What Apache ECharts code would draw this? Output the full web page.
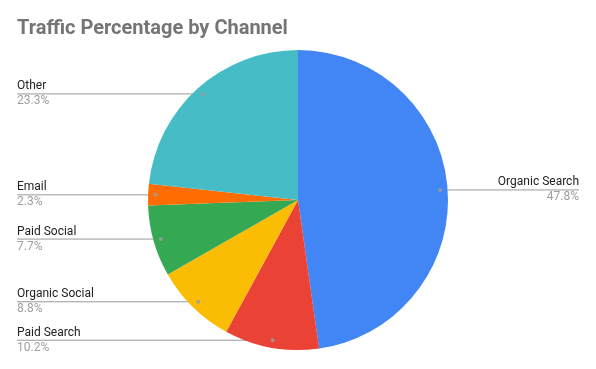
<!DOCTYPE html>
<html><head><meta charset="utf-8">
<script src="https://cdn.jsdelivr.net/npm/echarts@6/dist/echarts.min.js"></script>
<style>html,body{margin:0;padding:0;background:#fff}#c{width:596px;height:369px}</style>
</head><body><div id="c"></div>
<script>
const titleText = 'Traffic Percentage by Channel';
const categories = ['Organic Search', 'Paid Search', 'Organic Social', 'Paid Social', 'Email', 'Other'];
const values = [47.8, 10.2, 8.8, 7.7, 2.3, 23.3];
const colors = ['#4285F4', '#EA4335', '#FBBC04', '#34A853', '#FF6D01', '#46BDC6'];

const chart = echarts.init(document.getElementById('c'), null, {renderer: 'canvas'});
const data = categories.map((n, i) => ({name: n, value: values[i]}));
const total = values.reduce((a, b) => a + b, 0);
const mids = [];
let acc = 0;
values.forEach(v => { mids.push([0.95, acc + v / 2]); acc += v; });

const option = {
  animation: false,
  color: colors,
  title: {
    text: titleText, left: 12, top: 14,
    textStyle: {fontFamily: 'Roboto', fontWeight: 'bold', fontSize: 20, color: '#757575'}
  },
  polar: {center: ['50%', '54.2%'], radius: 150},
  angleAxis: {type: 'value', min: 0, max: total, startAngle: 90, clockwise: true, show: false},
  radiusAxis: {type: 'value', min: 0, max: 1, show: false},
  series: [
    {
      type: 'pie', center: ['50%', '54.2%'], radius: 150, startAngle: 90, clockwise: true,
      silent: true, data: data, label: {show: false}, labelLine: {show: false},
      itemStyle: {borderWidth: 0}
    },
    {
      type: 'pie', center: ['50%', '54.2%'], radius: 142.5, startAngle: 90, clockwise: true,
      silent: true, data: data,
      itemStyle: {color: 'rgba(0,0,0,0)', borderWidth: 0},
      label: {
        show: true, position: 'outer', alignTo: 'edge', edgeDistance: 17,
        formatter: '{n|{b}}\n{p|{c}%}',
        rich: {
          n: {fontFamily: 'Roboto', fontSize: 12, color: '#222222', lineHeight: 15},
          p: {fontFamily: 'Roboto', fontSize: 12, color: '#9e9e9e', lineHeight: 15}
        }
      },
      labelLine: {show: true, length: 0, length2: 0, smooth: false, lineStyle: {color: '#999999', width: 1}},
      labelLayout: function (params) {
        const pts = params.labelLinePoints;
        if (!pts) return {};
        const r = params.labelRect;
        const p0 = pts[0];
        const last = pts[pts.length - 1];
        const isLeft = last[0] < p0[0];
        const endX = isLeft ? r.x : r.x + r.width;
        return {labelLinePoints: [p0, [p0[0], p0[1]], [endX, last[1]]]};
      }
    },
    {
      type: 'scatter', coordinateSystem: 'polar', data: mids, symbolSize: 4,
      itemStyle: {color: '#9e9e9e'}, silent: true, z: 5
    }
  ]
};
chart.setOption(option);
</script>
</body></html>
